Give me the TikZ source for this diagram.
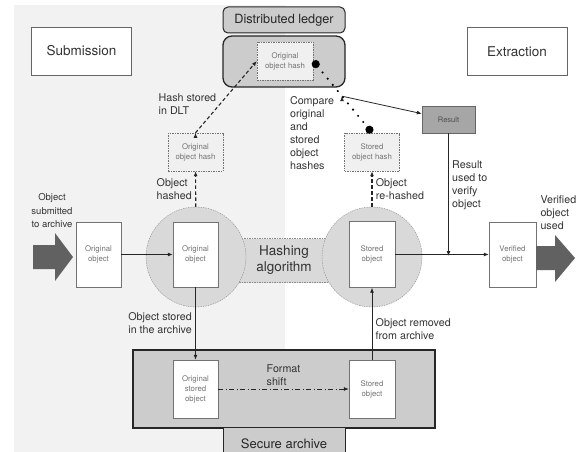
\documentclass[tikz,border=0pt]{standalone}
\usepackage{fontspec}
\setmainfont{TeX Gyre Heros}
\usetikzlibrary{positioning,arrows.meta}

\begin{document}
\begin{tikzpicture}[x=1pt,y=-1pt,node distance=100pt,on grid,
		>={Latex[length=5pt,width=4pt]},
		lbl/.style={text=black!80,font=\fontsize{10.7}{13}\selectfont,align=left},
		obj/.style={rectangle,draw=black!55,fill=white,text=black!55,font=\fontsize{7.8}{10}\selectfont,align=center,minimum width=45pt,minimum height=65pt,inner sep=1pt},
		hashbox/.style={rectangle,draw=black!55,fill=black!6,dash pattern=on 1.5pt off 1pt,text=black!55,font=\fontsize{7.8}{10}\selectfont,align=center,minimum width=55pt,minimum height=38pt,inner sep=1pt},
		phase/.style={rectangle,draw=black!60,fill=white,text=black!80,font=\fontsize{13.5}{15}\selectfont,minimum width=100pt,minimum height=48pt},
		store/.style={rectangle,draw=black!85,line width=1.3pt,fill=black!20},
		tab/.style={store,line width=1pt,text=black!85,font=\fontsize{13}{15}\selectfont,minimum width=122pt},
		hashing/.style={circle,draw=black!45,dash pattern=on 1.5pt off 1pt,fill=black!15,minimum size=100pt},
		link/.style={draw=black!85,line width=0.8pt}
	]
		\useasboundingbox (0,0) rectangle (579,452);
		\fill[black!5] (14,5) rectangle (285,452);

		% ledger
		\node[tab, rounded corners=5pt, minimum height=26pt, font=\fontsize{12.7}{14}\selectfont]	(l_0)	at (284,20)	{Distributed ledger};
		\node[store, rounded corners=9pt, minimum width=122pt, minimum height=51pt]	(l_1)	at (284,61.5)	{};
		\node[hashbox, minimum width=56pt]	(h_0)	at (285,61)	{Original\\object hash};

		% archive
		\node[store, minimum width=302pt, minimum height=78pt]	(a_0)	at (284,389)	{};
		\node[tab, minimum height=32pt, anchor=north]	(a_1)	at (284,427)	{Secure archive};

		\node[phase]	(s_0)	at (81.5,51)	{Submission};
		\node[phase]	(s_1)	at (517,51.5)	{Extraction};

		\node[rectangle, draw=black!60, fill=black!35, text=black!70, font=\fontsize{7.5}{9}\selectfont, minimum width=53pt, minimum height=27pt]	(res)	at (448.5,119.5)	{Result};

		% hashing
		\node[rectangle, draw=black!45, dash pattern=on 1.5pt off 1pt, fill=black!15, text=black!80, font=\fontsize{13.5}{16}\selectfont, align=center, minimum width=110pt, minimum height=44pt]	(alg)	at (284,260.5)	{Hashing\\algorithm};
		\node[hashing]	(c_1)	at (196,257)	{};
		\node[hashing]	(c_2)	at (372,257)	{};

		\node[obj]	(o_0)	at (98.5,254.5)	{Original\\object};
		\node[obj]	(o_1)	[right=97pt of o_0]	{Original\\object};
		\node[obj, minimum width=46pt, minimum height=66pt]	(o_2)	[right=176.5pt of o_1]	{Stored\\object};
		\node[obj, minimum width=47pt]	(o_3)	[right=140.5pt of o_2]	{Verified\\object};
		\node[obj, minimum height=58pt]	(o_4)	[below=134.5pt of o_1]	{Original\\stored\\object};
		\node[obj, minimum width=46pt, minimum height=58pt]	(o_5)	[below=134.5pt of o_2]	{Stored\\object};
		\node[hashbox]	(h_1)	[above=102.5pt of o_1]	{Original\\object hash};
		\node[hashbox]	(h_2)	[above=102.5pt of o_2]	{Stored\\object hash};

		\coordinate	(j_0)	at (448.5,256);

		% big arrows
		\fill[black!62] (33,245) -- (55,245) -- (55,233) -- (73,257) -- (55,281) -- (55,269) -- (33,269) -- cycle;
		\fill[black!62] (536,246) -- (555,246) -- (555,235) -- (575,258) -- (555,282) -- (555,270) -- (536,270) -- cycle;

		\node[lbl, align=center, font=\fontsize{9.5}{13.5}\selectfont]	(t_0)	at (52,211)	{Object\\submitted\\to archive};
		\node[lbl, anchor=west]	(t_1)	at (537,213)	{Verified\\object\\used};

		\draw[black, line width=2.3pt, dash pattern=on 0pt off 8pt, line cap=round, {Circle[length=8pt]}-{Circle[length=8pt]}]
			(h_0.east) -- coordinate[pos=0.49] (cmp) node[pos=0.43, anchor=north east, lbl] {Compare\\original\\and\\stored\\object\\hashes} (h_2.north);

		\path[->, link]
			(o_0)		edge			(o_1)
			(o_1)		edge	node[left, lbl]	{Object stored\\in the archive}	(o_4)
			(o_5)		edge	node[right, lbl, pos=0.42]	{Object removed\\from archive}	(o_2)
			(o_2)		edge			(o_3)
			(res)		edge	node[right, lbl, pos=0.42]	{Result\\used to\\verify\\object}	(j_0)
			(cmp)		edge			(res);
		\path[->, link, line width=1.1pt, dash pattern=on 3.5pt off 2.5pt]
			(c_1)		edge	node[left, lbl]	{Object\\hashed}	(h_1)
			(c_2)		edge	node[right, lbl]	{Object\\re-hashed}	(h_2)
			(h_1.north)	edge	node[left, lbl, pos=0.4]	{Hash stored\\in DLT}	(h_0.west);
		\path[->, link, dash pattern=on 5pt off 2.5pt on 1pt off 2.5pt]
			(o_4)		edge	node[above, lbl]	{Format\\shift}	(o_5);
	\end{tikzpicture}
\end{document}
